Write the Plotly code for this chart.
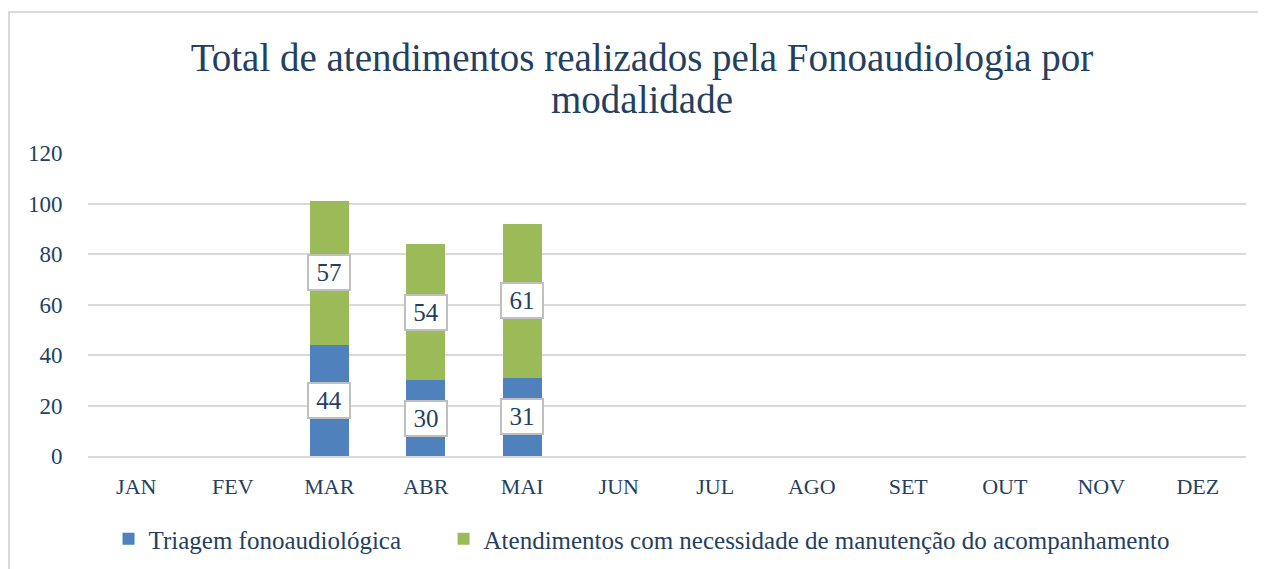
import plotly.graph_objects as go

meses = ["JAN", "FEV", "MAR", "ABR", "MAI", "JUN", "JUL", "AGO", "SET", "OUT", "NOV", "DEZ"]
triagem = [None, None, 44, 30, 31, None, None, None, None, None, None, None]
manutencao = [None, None, 57, 54, 61, None, None, None, None, None, None, None]
y_ticks = [0, 20, 40, 60, 80, 100, 120]

FONT = "Liberation Serif"
TEXT_COLOR = "#243F60"
OFF = 8  # margem padrão do <body> na página

fig = go.Figure()
# espaços não separáveis para afastar os itens da legenda
fig.add_trace(go.Bar(x=meses, y=triagem, name="Triagem fonoaudiológica" + "\u00a0" * 6,
                     marker=dict(color="#4F81BD", line=dict(width=0))))
fig.add_trace(go.Bar(x=meses, y=manutencao,
                     name="Atendimentos com necessidade de manutenção do acompanhamento",
                     marker=dict(color="#9BBB59", line=dict(width=0))))

# rótulos no meio de cada segmento
for m, a, b in zip(meses, triagem, manutencao):
    if a is None:
        continue
    for val, base in ((a, 0), (b, a)):
        fig.add_annotation(x=m, y=base + val / 2, text=str(val), showarrow=False,
                           font=dict(family=FONT, size=25, color=TEXT_COLOR),
                           bgcolor="white", bordercolor="#BFBFBF", borderwidth=2,
                           borderpad=3, width=34)

# segunda linha do título (espaçamento mais justo que o do plotly)
fig.add_annotation(xref="paper", yref="paper", x=0.478, y=1.175, yanchor="middle",
                   text="modalidade", showarrow=False,
                   font=dict(family=FONT, size=39, color=TEXT_COLOR))

# moldura do gráfico
fig.add_shape(type="rect", xref="paper", yref="paper",
              x0=-79 / 1158, x1=1.1, y0=-0.5, y1=444 / 303,
              line=dict(color="#D9D9D9", width=2), layer="below")

fig.update_layout(
    width=1266, height=569,
    barmode="stack", bargap=0.6,
    paper_bgcolor="white", plot_bgcolor="white",
    margin=dict(l=88 - OFF, r=20 + OFF, t=153 - OFF, b=113 + OFF, autoexpand=False),
    title=dict(text="Total de atendimentos realizados pela Fonoaudiologia por",
               x=(642 - OFF) / 1266, xanchor="center", y=1 - (57 - OFF) / 569,
               yanchor="middle",
               font=dict(family=FONT, size=39, color=TEXT_COLOR)),
    font=dict(family=FONT, size=22, color=TEXT_COLOR),
    legend=dict(orientation="h", traceorder="normal", x=0.478, xanchor="center",
                y=-(539 - 456) / 303, yanchor="middle",
                font=dict(family=FONT, size=25, color=TEXT_COLOR), itemwidth=30),
    showlegend=True,
)
fig.update_xaxes(showgrid=False, showline=True, linecolor="#D9D9D9", linewidth=2,
                 ticks="outside", ticklen=10, tickcolor="white", tickfont=dict(size=22))
fig.update_yaxes(range=[0, 120], tickvals=y_ticks, showgrid=True, gridcolor="#D9D9D9",
                 gridwidth=2, zeroline=False, showline=False, ticks="outside",
                 ticklen=20, tickcolor="white", tickfont=dict(size=23))

fig.write_html("out.html")
